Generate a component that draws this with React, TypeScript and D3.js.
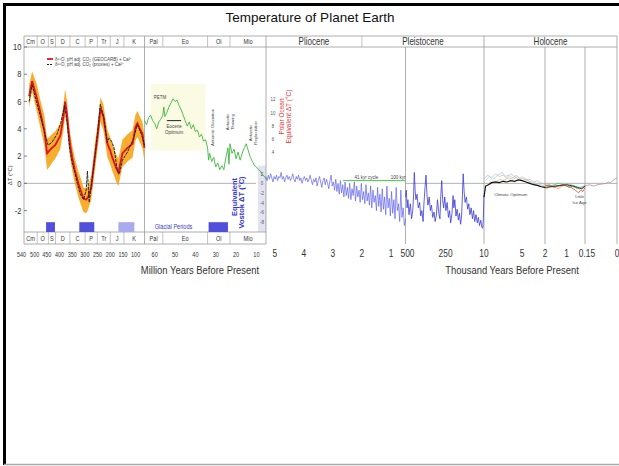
import React from 'react';
import * as d3 from 'd3';

// ---------- DATA ----------
const periodNames = ['Cm', 'O', 'S', 'D', 'C', 'P', 'Tr', 'J', 'K'];
const periodBounds = [540, 488, 444, 416, 359, 299, 251, 200, 146, 65];
const cenoNames = ['Pal', 'Eo', 'Ol', 'Mio'];
const cenoBounds = [65, 56, 34, 23, 5.3];

const phanTicks = [540, 500, 450, 400, 350, 300, 250, 200, 150, 100];
const cenoTicks = [60, 50, 40, 30, 20, 10];
const plioTicks = [5, 4, 3, 2, 1];
const p4Ticks = [500, 250];
const p5Ticks = [10, 5, 2];
const p6Ticks = [1, 0.15];
const p7Ticks = [0];
const yTicks = [10, 8, 6, 4, 2, 0, -2];
const vostokTicks = [2, 0, -2, -4, -6, -8];
const polarTicks = [12, 10, 8, 6, 4];

// Phanerozoic (Ma) - red GEOCARB curve with uncertainty band
const phanAges = [520, 508, 490, 477, 460, 449, 440, 430, 417, 397, 385, 378, 370, 366, 358, 350, 340, 326, 315, 306, 295, 287, 275, 259, 247, 239, 227, 211, 200, 192, 176, 168, 160, 152, 132, 112, 101, 93, 83, 73, 65];
const phanRed = [6.4, 7.5, 6.3, 5.3, 3.9, 2.2, 2.4, 2.6, 2.8, 3.5, 4.8, 6.0, 5.0, 4.1, 2.8, 1.9, 1.0, 0.0, -0.6, -1.1, -1.2, -1.0, -0.3, 2.2, 3.9, 5.5, 4.9, 2.9, 2.4, 1.9, 1.1, 0.8, 1.5, 2.2, 2.6, 2.9, 4.1, 4.4, 4.0, 3.6, 2.6];
const phanUpper = [7.2, 8.2, 7.3, 6.2, 5.0, 3.3, 3.4, 3.6, 3.8, 4.4, 5.7, 6.9, 6.0, 5.0, 3.7, 2.8, 1.9, 0.9, 0.3, -0.3, -0.4, -0.2, 0.6, 3.2, 4.8, 6.3, 5.8, 3.9, 3.4, 2.9, 2.1, 1.8, 2.5, 3.2, 3.6, 3.9, 5.0, 5.3, 4.9, 4.5, 3.5];
const phanLower = [5.6, 6.7, 5.3, 4.2, 2.8, 1.0, 1.2, 1.5, 1.8, 2.5, 3.8, 5.0, 4.0, 3.1, 1.8, 0.9, 0.0, -1.0, -1.6, -2.1, -2.2, -1.9, -1.2, 1.2, 2.9, 4.5, 3.9, 1.9, 1.4, 0.9, 0.1, -0.2, 0.5, 1.2, 1.6, 1.9, 3.1, 3.4, 3.0, 2.6, 1.6];
// Phanerozoic - black dashed proxy curve
const phanBlackAges = [520, 508, 490, 477, 460, 445, 430, 410, 395, 380, 370, 360, 350, 340, 330, 318, 305, 295, 290, 283, 275, 259, 247, 239, 225, 212, 205, 195, 185, 172, 164, 152, 132, 108, 93, 77, 65];
const phanBlack = [6.0, 7.2, 5.9, 5.0, 3.8, 2.8, 3.0, 3.6, 4.4, 5.7, 4.5, 2.5, 1.5, 0.8, 0.0, -0.8, -1.2, -0.5, 0.9, -1.4, -0.2, 2.2, 4.3, 5.8, 4.8, 3.0, 3.3, 3.1, 2.6, 0.9, 0.7, 1.7, 2.3, 3.3, 4.3, 3.6, 2.8];

// Glacial periods (Ma)
const glacialStart = [453, 322, 168, 33.5];
const glacialEnd = [418, 263, 105, 24];
const glacialLight = [false, false, true, false];

// Cenozoic (Ma) green curve
const cenoAges = [65, 64, 63, 62, 61, 60, 59, 58, 57, 56, 55.5, 55, 54, 53, 52, 51, 50, 49, 48, 47, 46, 45, 44, 43, 42, 41, 40, 39, 38, 37, 36, 35, 34, 33.5, 33, 32, 31, 30, 29, 28, 27, 26, 25, 24, 23.5, 23, 22, 21, 20, 19, 18, 17, 16, 15, 14, 13, 12, 11, 10, 9, 8, 7, 6, 5.3];
const cenoGreen = [4.6, 4.3, 4.8, 5.0, 4.6, 4.4, 4.0, 4.5, 4.7, 5.0, 5.6, 4.9, 5.2, 5.6, 5.9, 6.2, 6.0, 6.1, 5.7, 5.4, 5.0, 4.6, 4.2, 4.5, 4.0, 4.3, 3.8, 3.9, 3.4, 3.6, 3.1, 3.2, 2.6, 1.7, 2.2, 1.6, 1.9, 1.2, 1.5, 1.0, 1.3, 1.0, 1.9, 2.6, 1.4, 2.9, 2.2, 2.5, 1.8, 2.3, 1.7, 2.2, 2.6, 2.9, 2.4, 1.9, 1.6, 1.3, 1.2, 1.0, 0.9, 0.6, 0.5, 0.3];

// Plio-Pleistocene benthic stack (Ma, step)
const plioStartMa = 5.3;
const plioStepMa = 0.04;
const plioBlue = [
  0.5, 0.2, 0.6, 0.3, 0.7, 0.4, 0.1, 0.5, 0.3, 0.6,
  0.2, 0.5, 0.4, 0.8, 0.3, 0.5, 0.1, 0.4, 0.6, 0.3,
  0.5, 0.2, 0.4, 0.7, 0.3, 0.1, 0.5, 0.3, 0.6, 0.2,
  0.4, 0.0, 0.3, 0.5, 0.2, 0.4, 0.1, 0.3, 0.6, 0.2,
  -0.1, 0.3, 0.1, 0.4, -0.2, 0.2, 0.5, 0.1, -0.3, 0.2,
  0.4, -0.1, 0.3, 0.0, -0.4, 0.2, 0.6, -0.2,
  0.1, -0.5, 0.3, -0.6, 0.0, -0.8, 0.2, -0.7, -0.1, -1.0,
  0.1, -0.9, -0.3, -1.1, 0.0, -1.2, -0.4, -0.9, 0.1, -1.3,
  -0.2, -1.0, -0.5, -1.4, 0.0, -1.2, -0.6, -1.5, -0.1, -1.3,
  -0.7, -1.6, -0.2, -1.8, -0.5, -1.4, -0.9, -2.0, -0.3, -1.7,
  -0.8, -2.1, -0.4, -1.9, -1.0, -2.3, -0.2, -1.8, -1.1, -2.4,
  -0.6, -2.2, -1.2, -2.6, -0.3, -2.0, -1.5, -2.8, -0.5, -2.5, -1.8, -3.1, -2.6,
];

// Vostok (ka)
const vostokAges = [500, 495, 490, 485, 478, 470, 462, 455, 450, 445, 440, 435, 428, 420, 412, 405, 398, 390, 385, 378, 372, 366, 360, 352, 345, 338, 330, 322, 315, 308, 300, 292, 285, 280, 274, 268, 262, 255, 248, 240, 232, 225, 218, 210, 203, 198, 192, 185, 178, 170, 163, 156, 150, 145, 140, 134, 128, 120, 112, 105, 98, 90, 82, 75, 68, 60, 52, 45, 38, 30, 24, 18, 14, 12, 10];
const vostokVals = [-1.0, -0.5, -1.8, -1.2, -2.3, -1.5, -2.6, -2.0, -1.0, 0.8, -0.5, -1.2, -0.8, -1.8, -1.4, -2.4, -2.0, -2.8, -1.5, -0.3, 0.6, -0.8, -1.6, -1.0, -2.0, -1.6, -2.5, -2.1, -2.8, -2.4, -1.2, -2.2, -2.6, -1.0, 0.2, -1.2, -1.8, -1.0, -2.0, -1.4, -2.5, -2.0, -2.9, -2.2, -0.9, -1.8, -1.2, -2.4, -1.9, -2.7, -2.2, -3.0, -2.4, -1.0, 0.7, -0.6, -1.4, -1.0, -1.9, -1.5, -2.3, -1.8, -2.6, -2.0, -2.8, -2.3, -2.9, -2.5, -3.1, -2.7, -3.2, -3.3, -2.6, -1.6, -0.9];

// Holocene (ka)
const holoAges = [10, 9.8, 9.4, 9, 8.5, 8, 7.5, 7, 6.5, 6, 5.5, 5, 4.5, 4, 3.5, 3, 2.5, 2];
const holoBlack = [-1.0, -0.2, -0.1, 0.05, 0.1, 0.05, 0.15, 0.1, 0.2, 0.15, 0.25, 0.2, 0.1, 0.0, -0.1, -0.15, -0.25, -0.3];
const holoPinkAges = [10, 9.5, 9, 8.5, 8, 7.5, 7, 6.5, 6, 5.5, 5, 4.5, 4, 3.5, 3, 2.5, 2];
const holoPink = [0.3, 0.6, 0.4, 0.7, 0.5, 0.6, 0.4, 0.7, 0.5, 0.3, 0.5, 0.2, 0.3, 0.1, 0.2, 0.0, -0.1];
const holoCyanAges = [9.8, 9.3, 8.8, 8.2, 7.6, 7.2, 6.8, 6.2, 5.8, 5.2, 4.8, 4.2, 3.8, 3.2, 2.6, 2.1];
const holoCyan = [0.2, 0.5, 0.3, 0.6, 0.8, 0.5, 0.6, 0.4, 0.6, 0.3, 0.4, 0.2, 0.1, 0.0, -0.1, -0.2];
const holoTanAges = [9.6, 9.2, 8.6, 8, 7.4, 6.8, 6.2, 5.6, 5, 4.4, 3.8, 3.2, 2.6, 2];
const holoTan = [-0.2, 0.1, 0.0, 0.3, 0.2, 0.4, 0.3, 0.5, 0.2, 0.3, 0.0, -0.1, -0.2, -0.3];

// Last 2 ka
const lkRedAges = [2, 1.8, 1.6, 1.4, 1.2, 1, 0.8, 0.6, 0.45, 0.35, 0.25, 0.15];
const lkRed = [-0.2, -0.1, -0.3, -0.2, -0.1, -0.2, -0.3, -0.5, -0.7, -0.5, -0.6, -0.3];
const lkOrangeAges = [2, 1.8, 1.6, 1.4, 1.2, 1, 0.8, 0.6, 0.4, 0.25, 0.15];
const lkOrange = [-0.4, -0.3, -0.2, -0.4, -0.2, -0.1, -0.2, -0.3, -0.4, -0.3, -0.2];
const lkGreenAges = [2, 1.7, 1.4, 1.1, 0.9, 0.7, 0.5, 0.3, 0.15];
const lkGreen = [-0.1, -0.2, 0.0, -0.1, -0.3, -0.2, -0.4, -0.3, -0.2];
const lkCyanAges = [1.9, 1.6, 1.3, 1.0, 0.8, 0.6, 0.4, 0.2, 0.15];
const lkCyan = [-0.3, -0.1, -0.2, 0.0, -0.1, -0.2, -0.3, -0.2, -0.1];
const lkBlackAges = [2, 1.5, 1, 0.7, 0.5, 0.3, 0.15];
const lkBlack = [-0.3, -0.2, -0.1, -0.2, -0.3, -0.4, -0.2];

// Instrumental (ka)
const instAges = [0.15, 0.13, 0.11, 0.09, 0.07, 0.05, 0.04, 0.03, 0.02, 0.01, 0.0];
const instVals = [-0.2, -0.1, -0.2, -0.1, -0.05, 0.0, 0.1, 0.05, 0.2, 0.3, 0.4];

const cycleLevel = 0.2;

// ---------- LAYOUT ----------
const FS = "'Liberation Sans',Arial,sans-serif";
const GRID = '#9a9a9a';
const NARROW = 0.8;

type NTProps = { x: number; y: number; size: number; anchor?: string; fill?: string; sx?: number; children: React.ReactNode };
function NText({ x, y, size, anchor = 'middle', fill = '#333', sx = NARROW, children }: NTProps) {
  return (
    <text transform={`translate(${x},${y}) scale(${sx},1)`} fontSize={size} fontFamily={FS} textAnchor={anchor} fill={fill}>
      {children}
    </text>
  );
}

export default function App() {
  const y = d3.scaleLinear().domain([-3.57, 10]).range([232, 47]);
  const xP1 = d3.scaleLinear().domain([540, 65]).range([24, 144.5]);
  const xP2 = d3.scaleLinear().domain([65, 5.3]).range([144.5, 266]);
  const xP3 = d3.scaleLinear().domain([5.3, 0.5]).range([266, 405.5]);
  const xP4 = d3.scaleLinear().domain([500, 10]).range([405.5, 484]);
  const xP5 = d3.scaleLinear().domain([10, 2]).range([484, 545]);
  const xP6 = d3.scaleLinear().domain([2, 0.15]).range([545, 585]);
  const xP7 = d3.scaleLinear().domain([0.15, 0]).range([585, 617]);
  const vostokY = d3.scaleLinear().domain([0, -8]).range([y(0), y(-2.83)]);
  const polarY = d3.scaleLinear().domain([4, 12]).range([y(2.28), y(6.15)]);

  const top = 36, hdrB = 47, bandT = 232, bandB = 244;
  const left = 24, right = 617;

  const mkLine = (xs: (v: number) => number, ages: number[], vals: number[]) =>
    d3.line<number>().x((_, i) => xs(ages[i])).y((d) => y(d))(vals) || '';

  const band = d3.area<number>()
    .x((_, i) => xP1(phanAges[i]))
    .y0((_, i) => y(phanLower[i]))
    .y1((d) => y(d))(phanUpper) || '';

  const plioAges = plioBlue.map((_, i) => plioStartMa - i * plioStepMa);

  const tickLabel = (xv: number, t: string | number, size: number, key: string, sx = NARROW) => (
    <NText key={key} x={xv} y={256.5} size={size} sx={sx}>{t}</NText>
  );

  return (
    <svg width={619} height={466} style={{ position: 'absolute', left: 0, top: 0, background: '#fff' }}>
      <rect x={0} y={0} width={619} height={466} fill="#fff" />
      {/* frame */}
      <line x1={3} y1={4.5} x2={619} y2={4.5} stroke="#000" strokeWidth={3} />
      <line x1={4.5} y1={3} x2={4.5} y2={465} stroke="#000" strokeWidth={3} />
      <line x1={4} y1={464.5} x2={619} y2={464.5} stroke="#aaa" strokeWidth={1.5} />

      <text x={310} y={22} fontSize={13.5} fontFamily={FS} textAnchor="middle" fill="#111">Temperature of Planet Earth</text>

      {/* eocene optimum shaded area */}
      <rect x={xP2(62)} y={y(7.3)} width={xP2(35) - xP2(62)} height={y(2.4) - y(7.3)} fill="#fbfbe4" />
      {/* vostok axis band */}
      <rect x={258} y={y(1.3)} width={266 - 258} height={bandT - y(1.3)} fill="#e2e2f2" />

      {/* zero lines */}
      <line x1={left} x2={256} y1={y(0)} y2={y(0)} stroke={GRID} strokeWidth={0.8} />
      <line x1={405.5} x2={right} y1={y(0)} y2={y(0)} stroke={GRID} strokeWidth={0.8} />

      {/* header band */}
      <line x1={left} x2={right} y1={top} y2={top} stroke={GRID} strokeWidth={0.8} />
      <line x1={left} x2={right} y1={hdrB} y2={hdrB} stroke={GRID} strokeWidth={0.8} />
      <line x1={left} x2={266} y1={bandT} y2={bandT} stroke={GRID} strokeWidth={0.8} />
      <line x1={left} x2={266} y1={bandB} y2={bandB} stroke={GRID} strokeWidth={0.8} />
      {periodBounds.slice(1, -1).map((b, i) => (
        <g key={'pb' + i}>
          <line x1={xP1(b)} x2={xP1(b)} y1={top} y2={hdrB} stroke={GRID} strokeWidth={0.6} />
          <line x1={xP1(b)} x2={xP1(b)} y1={bandT} y2={bandB} stroke={GRID} strokeWidth={0.6} />
        </g>
      ))}
      {cenoBounds.slice(1, -1).map((b, i) => (
        <g key={'cb' + i}>
          <line x1={xP2(b)} x2={xP2(b)} y1={top} y2={hdrB} stroke={GRID} strokeWidth={0.6} />
          <line x1={xP2(b)} x2={xP2(b)} y1={bandT} y2={bandB} stroke={GRID} strokeWidth={0.6} />
        </g>
      ))}
      <line x1={xP3(2.0)} x2={xP3(2.0)} y1={top} y2={hdrB} stroke={GRID} strokeWidth={0.6} />
      {periodNames.map((n, i) => {
        const cx = (xP1(periodBounds[i]) + xP1(periodBounds[i + 1])) / 2;
        return (
          <g key={'pn' + i}>
            <NText x={cx} y={44.3} size={7}>{n}</NText>
            <NText x={cx} y={241} size={7}>{n}</NText>
          </g>
        );
      })}
      {cenoNames.map((n, i) => {
        const cx = (xP2(cenoBounds[i]) + xP2(cenoBounds[i + 1])) / 2;
        return (
          <g key={'cn' + i}>
            <NText x={cx} y={44.3} size={7}>{n}</NText>
            <NText x={cx} y={241} size={7}>{n}</NText>
          </g>
        );
      })}
      <NText x={(xP3(5.3) + xP3(2.0)) / 2} y={45} size={10}>Pliocene</NText>
      <NText x={(xP3(2.0) + xP5(10)) / 2} y={45} size={10}>Pleistocene</NText>
      <NText x={(xP5(10) + right) / 2} y={45} size={10}>Holocene</NText>

      {/* panel verticals */}
      <line x1={left} x2={left} y1={top} y2={bandB} stroke={GRID} strokeWidth={0.8} />
      <line x1={xP1(65)} x2={xP1(65)} y1={top} y2={bandB} stroke={GRID} strokeWidth={0.8} />
      <line x1={xP2(5.3)} x2={xP2(5.3)} y1={top} y2={bandB} stroke={GRID} strokeWidth={0.8} />
      <line x1={xP3(0.5)} x2={xP3(0.5)} y1={hdrB} y2={bandB} stroke={GRID} strokeWidth={0.8} />
      <line x1={xP5(10)} x2={xP5(10)} y1={top} y2={bandB} stroke={GRID} strokeWidth={0.8} />
      <line x1={xP5(2)} x2={xP5(2)} y1={hdrB} y2={bandB} stroke={GRID} strokeWidth={0.8} />
      <line x1={xP6(0.15)} x2={xP6(0.15)} y1={hdrB} y2={bandB} stroke={GRID} strokeWidth={0.8} />
      <line x1={right} x2={right} y1={top} y2={bandB} stroke={GRID} strokeWidth={0.8} />

      {/* y axis */}
      {yTicks.map((t) => (
        <g key={'yt' + t}>
          <line x1={left} x2={left + 3} y1={y(t)} y2={y(t)} stroke="#555" strokeWidth={0.7} />
          <NText x={left - 2.5} y={y(t) + 3.2} size={9.5} anchor="end">{t}</NText>
        </g>
      ))}
      <text transform={`translate(11.5,${y(0.6)}) rotate(-90)`} fontSize={6} fontFamily={FS} textAnchor="middle" fill="#333">ΔT (°C)</text>

      {/* glacial periods */}
      {glacialStart.map((s, i) => {
        const xs = s > 65 ? xP1 : xP2;
        return (
          <rect key={'gl' + i} x={xs(s)} y={y(-2.85)} width={xs(glacialEnd[i]) - xs(s)} height={bandT - y(-2.85)}
            fill={glacialLight[i] ? '#aaaaee' : '#5050dc'} />
        );
      })}
      <NText x={xP2(60)} y={228.5} size={7.5} anchor="start" fill="#3a3ad0" sx={0.75}>Glacial Periods</NText>

      {/* Phanerozoic */}
      <path d={band} fill="#f6a417" opacity={0.9} />
      <path d={mkLine(xP1, phanAges, phanRed)} fill="none" stroke="#e0102a" strokeWidth={1.8} />
      <path d={mkLine(xP1, phanBlackAges, phanBlack)} fill="none" stroke="#222" strokeWidth={1} strokeDasharray="3,1" />
      {/* legend */}
      <line x1={47} x2={53} y1={59} y2={59} stroke="#e0102a" strokeWidth={1.8} />
      <text x={55} y={60.5} fontSize={4.5} fontFamily={FS} fill="#444">δ¹⁸O, pH adj. CO₂ (GEOCARB) + Ca²⁺</text>
      <line x1={47} x2={53} y1={64.5} y2={64.5} stroke="#222" strokeWidth={1} strokeDasharray="2,1" />
      <text x={55} y={66} fontSize={4.5} fontFamily={FS} fill="#444">δ¹⁸O, pH adj. CO₂ (proxies) + Ca²⁺</text>

      {/* Cenozoic */}
      <path d={mkLine(xP2, cenoAges, cenoGreen)} fill="none" stroke="#3cb83c" strokeWidth={0.9} />
      <text x={xP2(60.5)} y={y(6.2)} fontSize={4.5} fontFamily={FS} fill="#444">PETM</text>
      <line x1={xP2(54)} x2={xP2(47)} y1={y(4.6)} y2={y(4.6)} stroke="#222" strokeWidth={1} />
      <text x={xP2(50.5)} y={y(4.05)} fontSize={4.5} fontFamily={FS} textAnchor="middle" fill="#444">Eocene</text>
      <text x={xP2(50.5)} y={y(3.6)} fontSize={4.5} fontFamily={FS} textAnchor="middle" fill="#444">Optimum</text>
      <text transform={`translate(${xP2(31)},${y(4.1)}) rotate(-90)`} fontSize={4.3} fontFamily={FS} textAnchor="middle" fill="#444">Antarctic Glaciation</text>
      <text transform={`translate(${xP2(23.4)},${y(4.5)}) rotate(-90)`} fontSize={4.3} fontFamily={FS} textAnchor="middle" fill="#444">Antarctic</text>
      <text transform={`translate(${xP2(21.2)},${y(4.5)}) rotate(-90)`} fontSize={4.3} fontFamily={FS} textAnchor="middle" fill="#444">Thawing</text>
      <text transform={`translate(${xP2(12.0)},${y(3.7)}) rotate(-90)`} fontSize={4.3} fontFamily={FS} textAnchor="middle" fill="#444">Antarctic</text>
      <text transform={`translate(${xP2(9.8)},${y(3.7)}) rotate(-90)`} fontSize={4.3} fontFamily={FS} textAnchor="middle" fill="#444">Reglaciation</text>

      {/* Vostok axis */}
      {vostokTicks.map((t) => (
        <NText key={'vt' + t} x={262} y={vostokY(t) + 2} size={5.5} fill="#555">{t}</NText>
      ))}
      <text transform={`translate(236.5,${y(-1.0)}) rotate(-90)`} fontSize={7.5} fontFamily={FS} textAnchor="middle" fill="#3434c8" fontWeight="bold">Equivalent</text>
      <text transform={`translate(243.5,${y(-1.4)}) rotate(-90)`} fontSize={7.5} fontFamily={FS} textAnchor="middle" fill="#3434c8" fontWeight="bold">Vostok ΔT (°C)</text>

      {/* Polar ocean axis */}
      {polarTicks.map((t) => (
        <NText key={'pt' + t} x={273} y={polarY(t) + 2} size={5.5} fill="#555">{t}</NText>
      ))}
      <text transform={`translate(284,${y(4.9)}) rotate(-90)`} fontSize={6.5} fontFamily={FS} textAnchor="middle" fill="#e03a3a">Polar Ocean</text>
      <text transform={`translate(290.5,${y(4.9)}) rotate(-90)`} fontSize={6.5} fontFamily={FS} textAnchor="middle" fill="#e03a3a">Equivalent ΔT (°C)</text>

      {/* Plio-Pleistocene */}
      <path d={mkLine(xP3, plioAges, plioBlue)} fill="none" stroke="#6262ea" strokeWidth={0.7} />
      <line x1={xP3(2.65)} x2={xP3(0.5)} y1={y(cycleLevel)} y2={y(cycleLevel)} stroke="#44cc44" strokeWidth={1} />
      <text x={xP3(1.85)} y={y(cycleLevel) - 2} fontSize={4.5} fontFamily={FS} textAnchor="middle" fill="#444">41 kyr cycle</text>
      <text x={xP3(0.75)} y={y(cycleLevel) - 2} fontSize={4.5} fontFamily={FS} textAnchor="middle" fill="#444">100 kyr</text>

      {/* Vostok */}
      <path d={mkLine(xP4, vostokAges, vostokVals)} fill="none" stroke="#3a3ad8" strokeWidth={0.8} />

      {/* Holocene */}
      <path d={mkLine(xP5, holoPinkAges, holoPink)} fill="none" stroke="#e6a6b8" strokeWidth={0.7} />
      <path d={mkLine(xP5, holoCyanAges, holoCyan)} fill="none" stroke="#86d8e4" strokeWidth={0.7} />
      <path d={mkLine(xP5, holoTanAges, holoTan)} fill="none" stroke="#d8b27a" strokeWidth={0.7} />
      <path d={mkLine(xP5, holoAges, holoBlack)} fill="none" stroke="#111" strokeWidth={1.2} />
      <text x={xP5(6.5)} y={y(-0.95)} fontSize={4.2} fontFamily={FS} textAnchor="middle" fill="#444">Climatic Optimum</text>

      {/* last 2 ka */}
      <path d={mkLine(xP6, lkOrangeAges, lkOrange)} fill="none" stroke="#f0a030" strokeWidth={0.8} />
      <path d={mkLine(xP6, lkGreenAges, lkGreen)} fill="none" stroke="#5cc85c" strokeWidth={0.8} />
      <path d={mkLine(xP6, lkCyanAges, lkCyan)} fill="none" stroke="#70d0e0" strokeWidth={0.8} />
      <path d={mkLine(xP6, lkRedAges, lkRed)} fill="none" stroke="#e04040" strokeWidth={0.8} />
      <path d={mkLine(xP6, lkBlackAges, lkBlack)} fill="none" stroke="#222" strokeWidth={0.9} />
      <text x={xP6(0.4)} y={y(-1.1)} fontSize={4.2} fontFamily={FS} textAnchor="middle" fill="#444">Little</text>
      <text x={xP6(0.4)} y={y(-1.5)} fontSize={4.2} fontFamily={FS} textAnchor="middle" fill="#444">Ice Age</text>

      {/* instrumental */}
      <path d={mkLine(xP7, instAges, instVals)} fill="none" stroke="#b898a8" strokeWidth={0.9} />

      {/* x tick labels */}
      {phanTicks.map((t) => tickLabel(xP1(t) + (t === 540 ? -2.5 : t === 500 ? 0.5 : 0), t, 8, 'p1' + t, 0.68))}
      {cenoTicks.map((t) => tickLabel(xP2(t), t, 8, 'p2' + t, 0.7))}
      {plioTicks.map((t) => tickLabel(xP3(t), t, 10.5, 'p3' + t))}
      {p4Ticks.map((t) => tickLabel(xP4(t) + (t === 500 ? 2 : 0), t, 10.5, 'p4' + t))}
      {p5Ticks.map((t) => tickLabel(xP5(t), t, 10.5, 'p5' + t))}
      {p6Ticks.map((t) => tickLabel(xP6(t) + (t === 0.15 ? 2 : 0), t, 10.5, 'p6' + t))}
      {p7Ticks.map((t) => tickLabel(xP7(t), t, 10.5, 'p7' + t))}

      <NText x={200} y={274} size={11.5} sx={0.82}>Million Years Before Present</NText>
      <NText x={512} y={274} size={11.5} sx={0.82}>Thousand Years Before Present</NText>
    </svg>
  );
}
